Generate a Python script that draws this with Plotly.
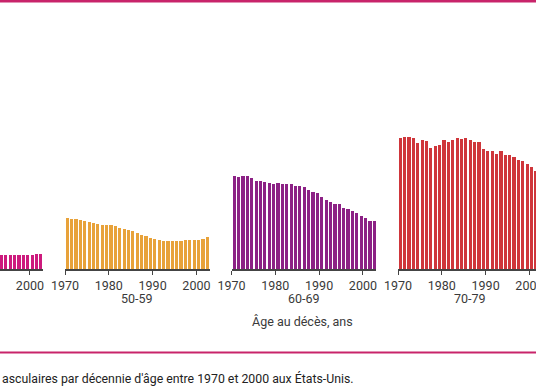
import plotly.graph_objects as go

# ---- data (arbitrary units, visible portion only) ----
groups = ["40-49", "50-59", "60-69", "70-79"]
colors = ["#CD1A7D", "#E8A23A", "#8C2185", "#CF363B"]

years_40 = list(range(1993, 2003))
vals_40 = [14, 14, 14, 14, 14, 14, 14, 14.5, 15, 15.5]

years_50 = list(range(1970, 2003))
vals_50 = [51, 50.5, 50, 49.5, 48, 47, 46, 45, 44.5, 44, 44, 43, 41.5, 40.5, 39,
           38, 36, 34.5, 33, 31.5, 30, 29, 28.5, 28.5, 28.5, 28.5, 28.5, 29, 29,
           29, 29.5, 30.5, 32]

years_60 = list(range(1970, 2003))
vals_60 = [92.7, 92.3, 93, 92.7, 90.7, 88, 88, 86.7, 85.7, 85.3, 86.3, 85.3, 85,
           84.7, 83.3, 82.7, 81.7, 79.3, 77.3, 76, 71.7, 69.3, 66.7, 65, 64.7,
           61.3, 60, 57.7, 55.7, 53.3, 50.7, 48.3, 47.7]

years_70 = list(range(1970, 2002))
vals_70 = [131, 131.7, 131.7, 131, 126, 129.3, 127.7, 121, 122.7, 124.3, 129,
           126.7, 129.3, 130.7, 130, 131, 129.3, 126.7, 126.7, 120, 118.3, 117.7,
           115, 117.7, 114.3, 114.3, 111.7, 109, 107.7, 105, 102.3, 98.3]

tick_years = [1970, 1980, 1990, 2000]

series = [(years_40, vals_40), (years_50, vals_50), (years_60, vals_60), (years_70, vals_70)]

# ---- layout geometry ----
W, H = 536, 386
first_year, last_year = 1970, 2003
px_per_year = 4.38
panel_step = 166.5
start_px_50 = 65
baseline_px = 269

fig = go.Figure()
layout_axes = {}
font_fam = "Roboto, 'DejaVu Sans', sans-serif"
label_col = "#3a3a3a"

for i, (g, c, (yrs, vals)) in enumerate(zip(groups, colors, series)):
    T = start_px_50 + panel_step * (i - 1)
    L = max(T, 0)
    R = min(T + (last_year - first_year) * px_per_year, W)
    rng = [first_year + (L - T) / px_per_year, first_year + (R - T) / px_per_year]
    axname = "x" if i == 0 else f"x{i+1}"
    key = "xaxis" if i == 0 else f"xaxis{i+1}"
    fig.add_trace(go.Bar(x=yrs, y=vals, xaxis=axname, yaxis="y",
                         marker=dict(color=c, line=dict(width=0)),
                         width=0.72, offset=0.14, showlegend=False))
    layout_axes[key] = dict(
        domain=[L / W, R / W], range=rng, anchor="y",
        tickvals=tick_years, ticktext=[str(t) for t in tick_years],
        ticks="outside", ticklen=4, tickwidth=1.2, tickcolor="#444",
        showline=True, linecolor="#444", linewidth=1.5,
        showgrid=False, zeroline=False, fixedrange=True,
        automargin=False, ticklabeloverflow="allow",
        tickfont=dict(size=12.5, color=label_col, family=font_fam),
    )
    # panel title under the axis (only where it falls inside the picture)
    centre = T + (last_year - first_year) * px_per_year / 2
    if 0 < centre < W:
        fig.add_annotation(text=g, xref="paper", yref="paper", x=centre / W,
                           y=1 - 298.5 / H, xanchor="center", yanchor="middle",
                           showarrow=False,
                           font=dict(size=12.5, color=label_col, family=font_fam))

fig.update_layout(**layout_axes)
fig.update_layout(
    yaxis=dict(domain=[1 - baseline_px / H, 1], range=[0, baseline_px],
               visible=False, fixedrange=True, automargin=False),
    width=W, height=H,
    margin=dict(l=0, r=0, t=0, b=0, pad=0, autoexpand=False),
    paper_bgcolor="white", plot_bgcolor="white",
    bargap=0, showlegend=False,
)

fig.add_annotation(text="Âge au décès, ans", xref="paper", yref="paper",
                   x=302 / W, y=1 - 321 / H, xanchor="center", yanchor="middle",
                   showarrow=False,
                   font=dict(size=12.5, color=label_col, family=font_fam))

fig.add_annotation(text="asculaires par décennie d'âge entre 1970 et 2000 aux États-Unis.",
                   xref="paper", yref="paper", x=0, y=1 - 378 / H,
                   xanchor="left", yanchor="middle", showarrow=False,
                   font=dict(size=12.3, color="#222222", family=font_fam))

# decorative pink rules
for ypx, lw in [(1, 3), (352.5, 2.2)]:
    fig.add_shape(type="line", xref="paper", yref="paper", x0=0, x1=1,
                  y0=1 - ypx / H, y1=1 - ypx / H,
                  line=dict(color="#C8246A", width=lw))

fig.write_html("out.html", config={"displayModeBar": False},
               post_script="document.body.style.margin='0';"
                           "document.body.style.overflow='hidden';")
